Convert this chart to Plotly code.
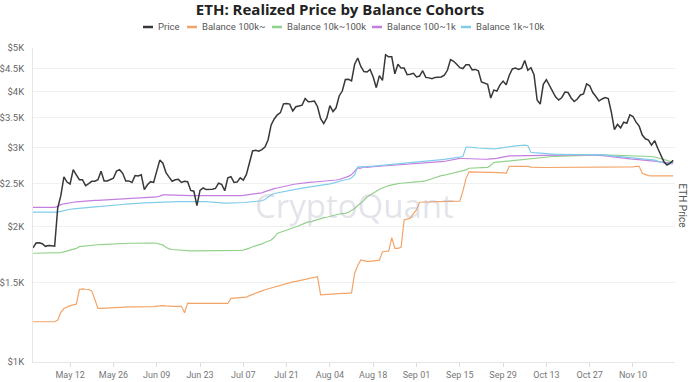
import math
import pandas as pd
import plotly.graph_objects as go

# Daily dates: 2025-04-30 .. 2025-11-23
dates = pd.date_range("2025-04-30", "2025-11-23", freq="D")

price = (
    [1795]
    + [1840, 1843, 1834, 1809, 1816, 1815, 1810, 2205, 2345, 2582,
       2515, 2490, 2680, 2610, 2545, 2545, 2470, 2495, 2525, 2525,
       2545, 2660, 2530, 2530, 2550, 2565, 2660, 2680, 2630, 2530, 2530]
    + [2510, 2600, 2595, 2610, 2420, 2480, 2520, 2510, 2680, 2815,
       2770, 2640, 2580, 2525, 2545, 2550, 2510, 2525, 2520, 2410,
       2400, 2230, 2410, 2440, 2420, 2420, 2425, 2435, 2500, 2485]
    + [2405, 2570, 2585, 2510, 2515, 2570, 2540, 2615, 2770, 2950,
       2960, 2945, 2970, 3010, 3120, 3370, 3475, 3550, 3590, 3755,
       3760, 3750, 3620, 3700, 3715, 3730, 3860, 3795, 3800, 3810, 3700]
    + [3480, 3395, 3495, 3720, 3610, 3680, 3910, 4010, 4255, 4260,
       4225, 4600, 4750, 4550, 4430, 4420, 4480, 4310, 4080, 4340,
       4235, 4830, 4780, 4780, 4380, 4600, 4510, 4510, 4360, 4370, 4390]
    + [4310, 4330, 4450, 4300, 4290, 4270, 4300, 4310, 4310, 4350,
       4460, 4710, 4670, 4600, 4520, 4500, 4590, 4590, 4470, 4480,
       4450, 4200, 4170, 4150, 3870, 4030, 4010, 4140, 4220, 4140]
    + [4350, 4490, 4510, 4480, 4510, 4690, 4460, 4520, 4360, 3830,
       3750, 4150, 4250, 4130, 3990, 3890, 3830, 3880, 3990, 3980,
       3870, 3800, 3850, 3930, 3950, 4160, 4120, 3980, 3900, 3810, 3850]
    + [3880, 3860, 3600, 3290, 3380, 3320, 3420, 3400, 3550, 3520,
       3420, 3350, 3200, 3140, 3120, 3040, 3110, 2990, 2880, 2790,
       2745, 2770, 2810]
)

bal_100k = (
    [1229]
    + [1229] * 7
    + [1240, 1290, 1315, 1328, 1335, 1340, 1345, 1450, 1455, 1452,
       1450, 1440, 1380, 1317, 1317, 1318, 1320, 1320, 1322, 1326,
       1328, 1327, 1326, 1326]
    + [1326, 1326, 1326, 1326, 1326, 1326, 1326, 1328, 1332, 1335,
       1335, 1333, 1330, 1330, 1330, 1330, 1330, 1287, 1352, 1350,
       1350, 1348, 1347, 1346, 1346, 1346, 1346, 1347, 1348, 1348]
    + [1348, 1350, 1386, 1387, 1388, 1390, 1392, 1394, 1405, 1415,
       1422, 1430, 1440, 1448, 1455, 1462, 1467, 1472, 1480, 1488,
       1495, 1502, 1508, 1512, 1518, 1522, 1528, 1535, 1540, 1545, 1549]
    + [1410, 1412, 1415, 1418, 1420, 1422, 1422, 1422, 1422, 1422,
       1425, 1576, 1640, 1687, 1680, 1675, 1675, 1678, 1680, 1685,
       1760, 1762, 1765, 1892, 1790, 1790, 1800, 2072, 2080, 2090, 2140]
    + [2181, 2268, 2270, 2271, 2272, 2273, 2274, 2275, 2276, 2277,
       2278, 2279, 2280, 2280, 2280, 2400, 2560, 2650, 2650, 2650,
       2650, 2650, 2648, 2648, 2648, 2648, 2645, 2640, 2635, 2630]
    + [2727] * 7 + [2715] + [2710] * 23
    + [2710] * 9 + [2720, 2727, 2727, 2630, 2610, 2600] + [2597] * 8
)

bal_10k_100k = (
    [1746]
    + [1746] * 7
    + [1748, 1752, 1758, 1765, 1772, 1778, 1790, 1806, 1810, 1814,
       1817, 1820, 1822, 1824, 1826, 1828, 1830, 1831, 1832, 1834,
       1835, 1836, 1837, 1838]
    + [1838, 1839, 1839, 1840, 1840, 1840, 1840, 1840, 1838, 1832,
       1820, 1800, 1785, 1780, 1777, 1775, 1773, 1771, 1770, 1768]
    + [1767] * 10
    + [1767, 1767, 1767, 1768, 1770, 1772, 1775, 1782, 1792, 1805,
       1813, 1822, 1832, 1845, 1858, 1869, 1895, 1933, 1945, 1955,
       1965, 1975, 1985, 1998, 2010, 2025, 2040, 2050, 2054, 2065, 2078]
    + [2088, 2095, 2100, 2110, 2120, 2128, 2135, 2140, 2142, 2155,
       2175, 2197, 2230, 2257, 2290, 2330, 2350, 2375, 2400, 2425,
       2445, 2456, 2470, 2480, 2490, 2495, 2500, 2505, 2510, 2512, 2515]
    + [2518, 2520, 2522, 2530, 2545, 2560, 2570, 2585, 2600, 2605,
       2615, 2630, 2645, 2655, 2665, 2672, 2677, 2700, 2702, 2704,
       2706, 2708, 2710, 2712, 2740, 2780, 2785, 2790, 2795, 2800]
    + [2805, 2810, 2815, 2820, 2825, 2830, 2835, 2840, 2842, 2845,
       2848, 2852, 2857, 2862, 2867, 2870, 2872, 2875, 2878, 2880,
       2883, 2885, 2888, 2890, 2892, 2895, 2895, 2895, 2894, 2892, 2890]
    + [2889, 2888, 2886, 2884, 2882, 2880, 2879, 2878, 2877, 2876,
       2875, 2874, 2872, 2870, 2868, 2867, 2860, 2850, 2838, 2825,
       2810, 2795, 2790]
)

bal_100_1k = (
    [2210]
    + [2210] * 7
    + [2220, 2240, 2250, 2258, 2263, 2268, 2272, 2276, 2279, 2282,
       2285, 2287, 2289, 2290, 2292, 2294, 2296, 2298, 2300, 2302,
       2305, 2308, 2311, 2314]
    + [2316, 2318, 2320, 2321, 2322, 2324, 2326, 2328, 2330, 2340,
       2354, 2354, 2352, 2351, 2350, 2349, 2348, 2347, 2347, 2346,
       2346, 2346, 2342, 2340, 2339, 2338, 2338, 2338, 2338, 2338]
    + [2338, 2339, 2340, 2342, 2344, 2346, 2350, 2355, 2360, 2366,
       2372, 2376, 2380, 2395, 2410, 2422, 2432, 2440, 2450, 2460,
       2468, 2476, 2484, 2490, 2496, 2502, 2506, 2510, 2513, 2516, 2519]
    + [2521, 2523, 2526, 2530, 2536, 2542, 2548, 2560, 2575, 2590,
       2613, 2660, 2705, 2700, 2718, 2712, 2720, 2722, 2724, 2727,
       2730, 2733, 2736, 2740, 2743, 2746, 2750, 2753, 2757, 2760, 2764]
    + [2768, 2772, 2776, 2780, 2783, 2785, 2787, 2789, 2792, 2795,
       2805, 2815, 2825, 2833, 2840, 2838, 2835, 2832, 2830, 2828,
       2827, 2827, 2827, 2828, 2830, 2832, 2840, 2850, 2860, 2868]
    + [2875, 2877, 2878, 2879, 2880, 2880, 2880, 2880, 2880, 2880,
       2881, 2882, 2883, 2884, 2885, 2886, 2887, 2888, 2889, 2890,
       2891, 2892, 2893, 2894, 2895, 2895, 2894, 2892, 2890, 2888, 2885]
    + [2880, 2872, 2865, 2858, 2850, 2842, 2838, 2835, 2832, 2829,
       2826, 2823, 2820, 2816, 2813, 2810, 2800, 2792, 2786, 2780,
       2776, 2775, 2778]
)

bal_1k_10k = (
    [2155]
    + [2155] * 8
    + [2165, 2175, 2183, 2188, 2191, 2195, 2200, 2205, 2208, 2212,
       2215, 2217, 2218, 2220, 2222, 2225, 2228, 2231, 2234, 2238,
       2242, 2246, 2250]
    + [2252, 2254, 2256, 2258, 2260, 2262, 2264, 2265, 2266, 2267,
       2268, 2270, 2271, 2272, 2273, 2274, 2275, 2276, 2277, 2278,
       2279, 2280, 2280, 2279, 2276, 2272, 2268, 2264, 2260, 2258]
    + [2257, 2257, 2257, 2258, 2260, 2262, 2265, 2268, 2272, 2276,
       2280, 2283, 2285, 2300, 2330, 2355, 2372, 2380, 2390, 2398,
       2405, 2410, 2416, 2422, 2430, 2438, 2445, 2450, 2456, 2462, 2468]
    + [2472, 2478, 2484, 2492, 2502, 2515, 2528, 2538, 2545, 2548,
       2570, 2613, 2718, 2718, 2718, 2720, 2725, 2728, 2732, 2736,
       2740, 2744, 2748, 2751, 2755, 2758, 2762, 2765, 2769, 2772, 2776]
    + [2780, 2783, 2787, 2791, 2795, 2800, 2806, 2812, 2818, 2825,
       2832, 2840, 2848, 2856, 2862, 2867, 3010, 3010, 3005, 3000,
       2995, 2990, 2985, 2982, 2980, 2980, 2985, 2990, 2995, 3000]
    + [3010, 3020, 3028, 3035, 3040, 3040, 3030, 2930, 2925, 2920,
       2915, 2910, 2908, 2905, 2902, 2900, 2900, 2900, 2900, 2900,
       2900, 2900, 2900, 2900, 2900, 2902, 2903, 2903, 2900, 2896, 2892]
    + [2888, 2884, 2880, 2875, 2870, 2867, 2862, 2858, 2854, 2850,
       2845, 2840, 2835, 2830, 2827, 2825, 2815, 2800, 2785, 2772,
       2762, 2760, 2765]
)

y_tick_vals = [1000, 1500, 2000, 2500, 3000, 3500, 4000, 4500, 5000]
y_tick_text = ["$1K", "$1.5K", "$2K", "$2.5K", "$3K", "$3.5K", "$4K", "$4.5K", "$5K"]

series_names = ["Price", "Balance 100k~", "Balance 10k~100k", "Balance 100~1k", "Balance 1k~10k"]
series_values = [price, bal_100k, bal_10k_100k, bal_100_1k, bal_1k_10k]
series_colors = ["#383838", "#F4A468", "#93D18B", "#C47EE0", "#80CDEA"]
series_widths = [1.5, 1.2, 1.2, 1.2, 1.2]

W, H = 700, 382
L, R, T, B = 33, 25, 48, 20
PW, PH = W - L - R, H - T - B

def px_x(px):
    return (px - L) / PW

def px_y(py):
    return (H - B - py) / PH

fig = go.Figure()
order = [1, 2, 3, 4, 0]  # draw price on top
for i in order:
    vals = series_values[i]
    fig.add_trace(go.Scatter(
        x=dates[:len(vals)], y=vals, name=series_names[i], mode="lines",
        line=dict(color=series_colors[i], width=series_widths[i]), showlegend=False,
    ))

FONT = "Open Sans, Noto Sans, sans-serif"
fig.update_layout(
    width=W, height=H,
    margin=dict(l=L, r=R, t=T, b=B, autoexpand=False),
    paper_bgcolor="white", plot_bgcolor="white",
    font=dict(family=FONT, size=10, color="#666"),
    title=dict(text="<b>ETH: Realized Price by Balance Cohorts</b>",
               x=340 / W, xanchor="center", y=1 - 10 / H, yanchor="middle", yref="container",
               pad=dict(t=0, b=0, l=0, r=0),
               font=dict(family=FONT, size=15, color="#222")),
    showlegend=False,
)
fig.update_xaxes(
    range=["2025-04-30", "2025-11-23 14:00"],
    tick0="2025-05-12", dtick=14 * 86400000, tickformat="%b %d",
    showgrid=False, showline=True, linecolor="#e6e6e6", linewidth=1,
    ticks="outside", ticklen=4, tickcolor="#dddddd",
    tickfont=dict(family="Roboto, sans-serif", size=9, color="#777"),
)
fig.update_yaxes(
    type="log", range=[3, math.log10(5000)],
    tickvals=y_tick_vals, ticktext=y_tick_text,
    showgrid=True, gridcolor="#f0f0f0", gridwidth=1,
    showline=True, linecolor="#e6e6e6", linewidth=1,
    zeroline=False, ticks="", ticklabelstandoff=6,
    tickfont=dict(family="Roboto, sans-serif", size=9.5, color="#666"),
)

# manual legend with short line symbols
legend_sym_x = [143, 187, 272, 372, 461]
legend_y = 27
for name, color, sx in zip(series_names, series_colors, legend_sym_x):
    fig.add_shape(type="line", xref="paper", yref="paper",
                  x0=px_x(sx), x1=px_x(sx + 10), y0=px_y(legend_y), y1=px_y(legend_y),
                  line=dict(color=color, width=2.5))
    fig.add_annotation(text=name, xref="paper", yref="paper", x=px_x(sx + 13), y=px_y(legend_y),
                       xanchor="left", yanchor="middle", showarrow=False,
                       font=dict(family="Roboto, sans-serif", size=9.5, color="#555"))

fig.add_annotation(text="CryptoQuant", xref="paper", yref="paper", x=px_x(354), y=px_y(205),
                   showarrow=False, font=dict(family=FONT, size=33, color="rgba(175,175,195,0.35)"))
fig.add_annotation(text="ETH Price", xref="paper", yref="paper", x=px_x(690), y=px_y(205),
                   textangle=90, showarrow=False,
                   font=dict(family="Roboto, sans-serif", size=10, color="#555"))

fig.write_html("out.html", config={"displayModeBar": False},
               post_script="document.body.style.margin='0';document.body.style.overflow='hidden';")
